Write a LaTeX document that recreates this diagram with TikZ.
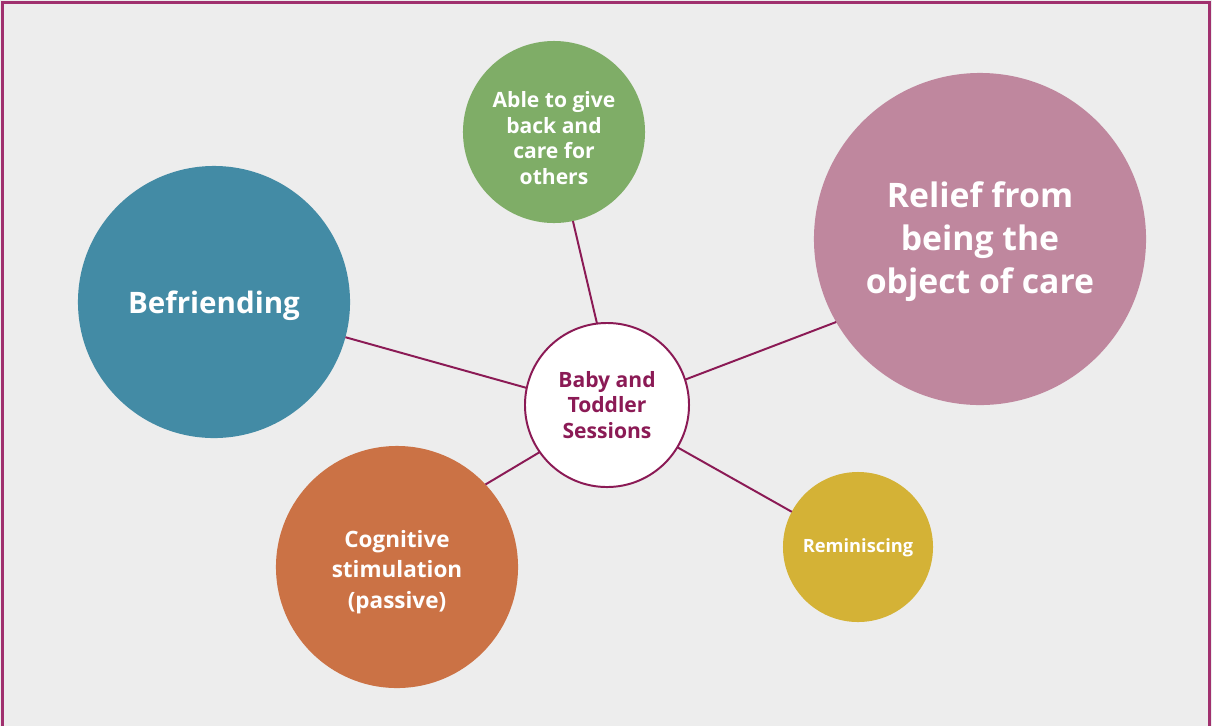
\documentclass[tikz,border=0pt]{standalone}
\usepackage{fontspec}
\setmainfont{Open Sans}[BoldFont={* Bold}]
\definecolor{bgc}{HTML}{EDEDED}
\definecolor{framec}{HTML}{A0306E}
\definecolor{linec}{HTML}{8B1A55}
\definecolor{ablec}{HTML}{7FAD67}
\definecolor{befc}{HTML}{438BA5}
\definecolor{relc}{HTML}{BF879E}
\definecolor{cogc}{HTML}{CB7245}
\definecolor{remc}{HTML}{D4B236}
\tikzset{
  bubble/.style={circle, inner sep=0pt, outer sep=0pt},
  btext/.style={align=center, text=white, inner sep=0pt},
  link/.style={draw=linec, line width=1.4pt},
}
\begin{document}
\begin{tikzpicture}[x=0.025cm,y=-0.025cm]
\fill[bgc] (0,0) rectangle (1212,726);
\useasboundingbox (0,0) rectangle (1212,726);
\draw[framec, line width=1.6pt] (2.5,726) -- (2.5,2.5) -- (1209.5,2.5) -- (1209.5,726);

\node[bubble, fill=ablec, minimum size=4.55cm,
  label={[btext, yshift=-4.3pt, font=\fontsize{15}{18.4}\bfseries]center:{Able to give\\back and\\care for\\others}}] (able) at (554,132) {};
\node[bubble, fill=befc, minimum size=6.8cm,
  label={[btext, yshift=-2.8pt, font=\fontsize{21}{25}\bfseries]center:{Befriending}}] (bef) at (214,302) {};
\node[bubble, fill=relc, minimum size=8.3cm,
  label={[btext, yshift=-2pt, font=\fontsize{24}{30.5}\bfseries]center:{Relief from\\being the\\object of care}}] (rel) at (980,239) {};
\node[bubble, fill=cogc, minimum size=6.05cm,
  label={[btext, yshift=-3.5pt, font=\fontsize{16}{21.5}\bfseries]center:{Cognitive\\stimulation\\(passive)}}] (cog) at (397,567) {};
\node[bubble, fill=remc, minimum size=3.75cm,
  label={[btext, yshift=-0.6pt, font=\fontsize{13}{16}\bfseries]center:{Reminiscing}}] (rem) at (858,547) {};
\node[bubble, fill=white, draw=linec, line width=1.4pt, minimum size=4.1cm,
  label={[btext, text=linec, font=\fontsize{15}{18.4}\bfseries]center:{Baby and\\Toddler\\Sessions}}] (ctr) at (607,405) {};

\draw[link] (ctr.97) -- (able.282);
\draw[link] (ctr.168) -- (bef.-15);
\draw[link] (ctr.18.4) -- (rel.210);
\draw[link] (ctr.215.6) -- (cog.43);
\draw[link] (ctr.-31) -- (rem.152);
\end{tikzpicture}
\end{document}
